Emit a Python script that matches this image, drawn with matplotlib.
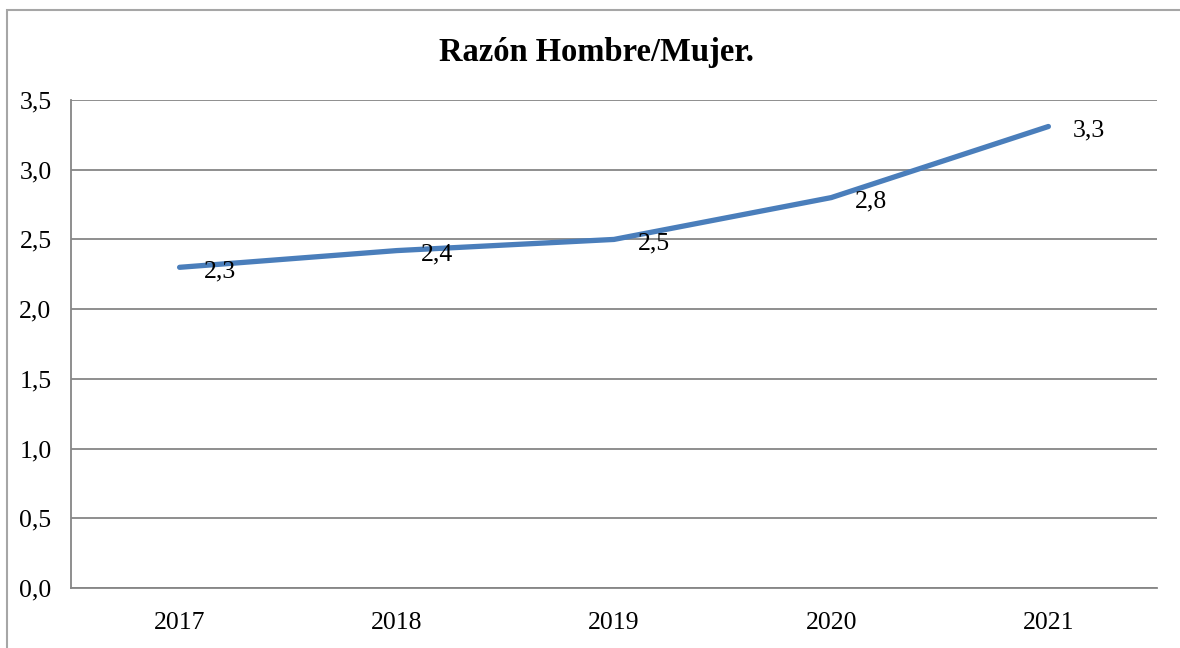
import matplotlib
matplotlib.use("Agg")
import matplotlib.pyplot as plt
from matplotlib.patches import Rectangle

years = ["2017", "2018", "2019", "2020", "2021"]
ratio = [2.30, 2.42, 2.50, 2.80, 3.31]
ytick_vals = [0.0, 0.5, 1.0, 1.5, 2.0, 2.5, 3.0, 3.5]
title = "Razón Hombre/Mujer."

plt.rcParams['font.family'] = ['Liberation Serif', 'DejaVu Serif']

W, H = 1180, 648
fig = plt.figure(figsize=(W / 100, H / 100), dpi=100)

# outer chart frame (left/top visible; right & bottom run off image)
fig.patches.append(Rectangle((7 / W, -0.1), 1.2, 1 - 10 / H + 0.1,
                             transform=fig.transFigure, fill=False,
                             edgecolor='#A6A6A6', linewidth=1.5))

left, right, top, bottom = 71, 1157, 100, 588
ax = fig.add_axes([left / W, 1 - bottom / H, (right - left) / W, (bottom - top) / H])

x = list(range(len(years)))
ax.plot(x, ratio, color='#4A7EBB', linewidth=3.8, solid_capstyle='round', zorder=3)

for xi, v in zip(x, ratio):
    ax.annotate(f"{v:.1f}".replace('.', ','), (xi, v), xytext=(24, -4),
                textcoords='offset pixels', ha='left', va='center',
                fontsize=18.5, color='black', zorder=4)

ax.set_xlim(-0.5, len(years) - 0.5)
ax.set_ylim(0, 3.5)
ax.set_xticks(x)
ax.set_xticklabels(years, fontsize=18.5)
ax.set_yticks(ytick_vals)
ax.set_yticklabels([f"{v:.1f}".replace('.', ',') for v in ytick_vals], fontsize=18.5)
ax.tick_params(axis='both', length=0)
ax.tick_params(axis='y', pad=14)
ax.tick_params(axis='x', pad=17)

ax.grid(axis='y', color='#868686', linewidth=1.3)
ax.set_axisbelow(True)
for s in ['top', 'right']:
    ax.spines[s].set_visible(False)
for s in ['left', 'bottom']:
    ax.spines[s].set_color('#868686')
    ax.spines[s].set_linewidth(1.3)

fig.text(596 / W, 1 - 53 / H, title, ha='center', va='center',
         fontsize=23.5, fontweight='bold')

fig.savefig("out.png", dpi=100)
